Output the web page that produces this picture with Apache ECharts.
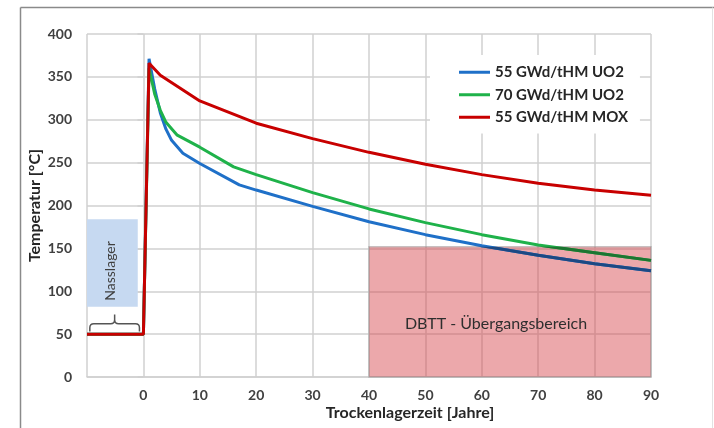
<!DOCTYPE html>
<html>
<head>
<meta charset="utf-8">
<script src="https://cdn.jsdelivr.net/npm/echarts@6/dist/echarts.min.js"></script>
<style>
html,body{margin:0;padding:0;background:#fff;}
#c{width:714px;height:428px;}
</style>
</head>
<body>
<div id="c"></div>
<script>
// ---- data ----
var seriesNames = ['55 GWd/tHM UO2', '70 GWd/tHM UO2', '55 GWd/tHM MOX'];
var blueX = [-10, 0, 1, 2, 3, 4, 5, 7, 10, 17, 20, 30, 40, 50, 60, 70, 80, 90];
var blueY = [50, 50, 371, 336, 308, 289, 276, 261, 249, 224, 218, 199, 181, 166, 153, 142, 132, 124];
var greenX = [-10, 0, 1, 2, 3, 4, 6, 10, 16, 20, 30, 40, 50, 60, 70, 80, 90];
var greenY = [50, 50, 360, 330, 311, 297, 282, 268, 245, 236, 215, 196, 180, 166, 154, 145, 136];
var redX = [-10, 0, 1, 3, 10, 20, 30, 40, 50, 60, 70, 80, 90];
var redY = [50, 50, 366, 352, 322, 296, 278, 262, 248, 236, 226, 218, 212];
var xTicks = [0, 10, 20, 30, 40, 50, 60, 70, 80, 90];
var yTicks = [0, 50, 100, 150, 200, 250, 300, 350, 400];
// annotation regions (data units)
var nassX = [-10, -1], nassY = [82, 184];
var braceX = [-9.5, -0.7], braceY = [53, 62, 73];
var dbttX = [40, 90], dbttY = [0, 152];
var nassText = 'Nasslager';
var dbttText = 'DBTT - Übergangsbereich';

function pairs(xs, ys) { return xs.map(function (x, i) { return [x, ys[i]]; }); }

var FONT = 'Lato, "Open Sans", sans-serif';
var GRID = '#d0d0d0';
var BLUE = '#1f70c8', GREEN = '#1fb24a', RED = '#c80000';
var BLUE_D = '#1c4983', GREEN_D = '#1c7531';
var chart = echarts.init(document.getElementById('c'), null, {renderer: 'canvas'});

var option = {
  animation: false,
  backgroundColor: '#fff',
  textStyle: {fontFamily: FONT},
  grid: {left: 87, right: 63, top: 34, bottom: 51, containLabel: false},
  legend: {
    orient: 'vertical', left: 430, top: 55,
    padding: [9, 12, 8, 29],
    backgroundColor: '#fff',
    icon: 'rect', itemWidth: 31, itemHeight: 3, itemGap: 6,
    textStyle: {fontFamily: FONT, fontSize: 15, fontWeight: 'bold', color: '#262626', lineHeight: 16.5},
    data: seriesNames
  },
  xAxis: {
    type: 'value', min: -10, max: 90, interval: 10,
    name: 'Trockenlagerzeit [Jahre]', nameLocation: 'middle', nameGap: 28, nameMoveOverlap: false,
    nameTextStyle: {fontFamily: FONT, fontSize: 16, fontWeight: 'bold', color: '#262626', padding: [0, 0, 0, 82]},
    axisLine: {show: true, lineStyle: {color: GRID, width: 1.5}},
    axisTick: {show: false},
    axisLabel: {margin: 11, fontFamily: FONT, fontSize: 14, fontWeight: 'bold', color: '#404040',
      formatter: function (v) { return xTicks.indexOf(v) >= 0 ? String(v) : ''; }},
    splitLine: {show: true, lineStyle: {color: GRID, width: 1.5}}
  },
  yAxis: {
    type: 'value', min: 0, max: 400, interval: 50,
    name: 'Temperatur [°C]', nameLocation: 'middle', nameGap: 44, nameMoveOverlap: false,
    nameTextStyle: {fontFamily: FONT, fontSize: 16, fontWeight: 'bold', color: '#262626'},
    axisLine: {show: false},
    axisTick: {show: true, length: 6, lineStyle: {color: GRID, width: 1.5}},
    axisLabel: {margin: 15, fontFamily: FONT, fontSize: 14, fontWeight: 'bold', color: '#404040',
      formatter: function (v) { return yTicks.indexOf(v) >= 0 ? String(v) : ''; }},
    splitLine: {show: true, lineStyle: {color: GRID, width: 1.5}}
  },
  graphic: [
    {type: 'line', shape: {x1: 20.5, y1: 7.5, x2: 20.5, y2: 428}, style: {stroke: '#8a8a8a', lineWidth: 1.5}, z: 100},
    {type: 'line', shape: {x1: 20.5, y1: 7.5, x2: 714, y2: 7.5}, style: {stroke: '#8a8a8a', lineWidth: 1.5}, z: 100},
    {type: 'line', shape: {x1: 712.5, y1: 7.5, x2: 712.5, y2: 428}, style: {stroke: '#e2e2e2', lineWidth: 1}, z: 100}
  ],
  series: [
    {
      type: 'custom', name: 'nass', silent: true, z: 1,
      data: [[0]],
      renderItem: function (params, api) {
        var p1 = api.coord([nassX[0], nassY[1]]);
        var p2 = api.coord([nassX[1], nassY[0]]);
        var b0 = api.coord([braceX[0], braceY[0]]);
        var b1 = api.coord([braceX[1], braceY[1]]);
        var bt = api.coord([(braceX[0] + braceX[1]) / 2, braceY[2]]);
        var xl = b0[0], xr = b1[0], yb = b0[1], ym = b1[1], xm = bt[0], yt = bt[1];
        var r = 4;
        var path = 'M' + xl + ' ' + yb + ' L' + xl + ' ' + (ym + r) +
          ' Q' + xl + ' ' + ym + ' ' + (xl + r) + ' ' + ym +
          ' L' + (xm - r) + ' ' + ym +
          ' Q' + xm + ' ' + ym + ' ' + xm + ' ' + (ym - r) +
          ' L' + xm + ' ' + yt +
          ' M' + xm + ' ' + (ym - r) +
          ' Q' + xm + ' ' + ym + ' ' + (xm + r) + ' ' + ym +
          ' L' + (xr - r) + ' ' + ym +
          ' Q' + xr + ' ' + ym + ' ' + xr + ' ' + (ym + r) +
          ' L' + xr + ' ' + yb;
        return {
          type: 'group',
          children: [
            {type: 'rect', shape: {x: p1[0], y: p1[1], width: p2[0] - p1[0], height: p2[1] - p1[1]},
              style: {fill: '#c6d9f1'}},
            {type: 'text', x: (p1[0] + p2[0]) / 2 - 2, y: (p1[1] + p2[1]) / 2 + 8, rotation: Math.PI / 2,
              style: {text: nassText, fill: '#404040', font: 'normal 14px ' + FONT, align: 'center', verticalAlign: 'middle'}},
            {type: 'path', shape: {pathData: path}, style: {fill: null, stroke: '#555', lineWidth: 1.5}}
          ]
        };
      }
    },
    {
      // translucent DBTT region (over the grid lines, under the curves)
      type: 'custom', name: 'dbtt', silent: true, z: 2,
      data: [[0]],
      renderItem: function (params, api) {
        var p1 = api.coord([dbttX[0], dbttY[1]]);
        var p2 = api.coord([dbttX[1], dbttY[0]]);
        return {
          type: 'group',
          children: [
            {type: 'rect', shape: {x: p1[0], y: p1[1], width: p2[0] - p1[0], height: p2[1] - p1[1]},
              style: {fill: 'rgba(214,70,76,0.47)', stroke: 'rgba(150,150,150,0.5)', lineWidth: 1.5}},
            {type: 'text', x: (p1[0] + p2[0]) / 2 - 14, y: (p1[1] + p2[1]) / 2 + 12,
              style: {text: dbttText, fill: '#2e2e2e', font: 'normal 16px ' + FONT, align: 'center', verticalAlign: 'middle'}}
          ]
        };
      }
    },
    {name: seriesNames[0], type: 'line', data: pairs(blueX, blueY), symbol: 'none', z: 3,
      lineStyle: {color: BLUE, width: 3}, itemStyle: {color: BLUE}},
    {name: seriesNames[1], type: 'line', data: pairs(greenX, greenY), symbol: 'none', z: 3,
      lineStyle: {color: GREEN, width: 3}, itemStyle: {color: GREEN}},
    {name: seriesNames[2], type: 'line', data: pairs(redX, redY), symbol: 'none', z: 3,
      lineStyle: {color: RED, width: 3}, itemStyle: {color: RED}},
    {
      // darker look of the curves where they pass through the DBTT region
      type: 'custom', name: 'dbttTint', silent: true, z: 4,
      data: [[0]],
      renderItem: function (params, api) {
        var p1 = api.coord([dbttX[0], dbttY[1]]);
        var p2 = api.coord([dbttX[1], dbttY[0]]);
        var clip = {type: 'rect', shape: {x: p1[0], y: p1[1], width: p2[0] - p1[0] + 3, height: p2[1] - p1[1]}};
        function poly(xs, ys, col) {
          return {type: 'polyline', shape: {points: xs.map(function (x, i) { return api.coord([x, ys[i]]); })},
            style: {fill: null, stroke: col, lineWidth: 3, lineJoin: 'round'}};
        }
        return {
          type: 'group', clipPath: clip,
          children: [poly(blueX, blueY, BLUE_D), poly(greenX, greenY, GREEN_D)]
        };
      }
    }
  ]
};
chart.setOption(option);
</script>
</body>
</html>
